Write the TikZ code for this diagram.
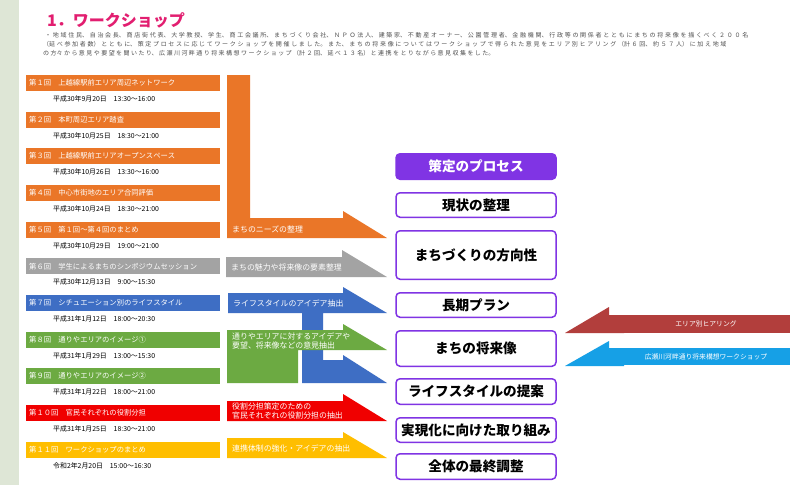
\documentclass[tikz,border=0pt]{standalone}
\usepackage{fontspec}
\setmainfont{Noto Sans CJK JP}
\XeTeXlinebreaklocale "ja"
\XeTeXlinebreakskip=0pt plus 3pt
\definecolor{wsorange}{RGB}{234,118,40}
\definecolor{wsgray}{RGB}{163,163,163}
\definecolor{wsblue}{RGB}{62,110,196}
\definecolor{wsgreen}{RGB}{108,170,66}
\definecolor{wsred}{RGB}{240,0,0}
\definecolor{wsyellow}{RGB}{255,190,0}
\definecolor{wspurple}{RGB}{128,52,228}
\definecolor{wstitle}{RGB}{226,30,112}
\definecolor{wsbrown}{RGB}{178,62,60}
\definecolor{wscyan}{RGB}{22,160,230}
\definecolor{paragray}{RGB}{80,80,80}
\definecolor{mapbg}{RGB}{222,230,214}
\begin{document}
\begin{tikzpicture}[x=1pt,y=-1pt,
  sess/.style={anchor=north west, inner xsep=3pt, inner ysep=0pt, minimum height=16pt,
    text width=188pt, text=white, font=\fontsize{7.3}{8}\selectfont},
  datetext/.style={anchor=west, inner sep=0pt, font=\fontsize{6.9}{7.5}\selectfont},
  arrlabel/.style={anchor=west, inner sep=0pt, text=white, align=left,
    font=\fontsize{7.9}{9}\selectfont},
  procbox/.style={draw=wspurple, line width=1.5pt, rounded corners=4pt, fill=white,
    minimum width=160pt, font=\fontsize{13.6}{15}\selectfont\bfseries},
  sidebox/.style={minimum width=168pt, inner sep=0pt, text=white,
    font=\fontsize{6.8}{8}\selectfont},
  paraline/.style={anchor=west, inner sep=0pt, text=paragray, font=\fontsize{6}{7}\selectfont}
]
\useasboundingbox (0,0) rectangle (798,485);
\fill[white] (0,0) rectangle (798,485);
\fill[mapbg] (0,0) rectangle (19,485);

% title and paragraph
\node[anchor=west, inner sep=0pt, text=wstitle, font=\fontsize{16}{18}\selectfont\bfseries] (title) at (47,20) {1．ワークショップ};
\node[paraline, text width=710pt] (p1) at (45,35) {\parfillskip=0pt\relax ・地域住民、自治会長、商店街代表、大学教授、学生、商工会議所、まちづくり会社、ＮＰＯ法人、建築家、不動産オーナー、公園管理者、金融機関、行政等の関係者とともにまちの将来像を描くべく２００名\par};
\node[paraline, text width=690pt] (p2) at (43,44) {\parfillskip=0pt\relax （延べ参加者数）とともに、策定プロセスに応じてワークショップを開催しました。また、まちの将来像についてはワークショップで得られた意見をエリア別ヒアリング（計６回、約５７人）に加え地域\par};
\node[paraline, text width=457pt] (p3) at (43,53) {\parfillskip=0pt\relax の方々から意見や要望を聞いたり、広瀬川河畔通り将来構想ワークショップ（計２回、延べ１３名）と連携をとりながら意見収集をした。\par};

% sessions
\foreach \n/\t/\c/\ti/\da in {
  1/75/wsorange/第１回　上越線駅前エリア周辺ネットワーク/平成30年9月20日　13:30～16:00,
  2/112/wsorange/第２回　本町周辺エリア踏査/平成30年10月25日　18:30～21:00,
  3/148/wsorange/第３回　上越線駅前エリアオープンスペース/平成30年10月26日　13:30～16:00,
  4/185/wsorange/第４回　中心市街地のエリア合同評価/平成30年10月24日　18:30～21:00,
  5/222/wsorange/第５回　第１回～第４回のまとめ/平成30年10月29日　19:00～21:00,
  6/258/wsgray/第６回　学生によるまちのシンポジウムセッション/平成30年12月13日　9:00～15:30,
  7/295/wsblue/第７回　シチュエーション別のライフスタイル/平成31年1月12日　18:00～20:30,
  8/332/wsgreen/第８回　通りやエリアのイメージ①/平成31年1月29日　13:00～15:30,
  9/368/wsgreen/第９回　通りやエリアのイメージ②/平成31年1月22日　18:00～21:00,
  10/405/wsred/第１０回　官民それぞれの役割分担/平成31年1月25日　18:30～21:00,
  11/442/wsyellow/第１１回　ワークショップのまとめ/令和2年2月20日　15:00～16:30}
{
  \node[sess, fill=\c] (s\n) at (26,\t) {\ti};
  \node[datetext] (d\n) at (53,{\t+23.5}) {\da};
}

% middle arrows
\fill[wsorange] (227,75) -- (250,75) -- (250,218) -- (343,218) -- (343,211) -- (387,238) -- (227,238) -- cycle;
\fill[wsgray] (226,257) -- (342,257) -- (342,250) -- (387,277) -- (226,277) -- cycle;
\fill[wsblue] (228,293) -- (343,293) -- (343,287) -- (387,313) -- (323,313) -- (323,360)
  -- (343,360) -- (343,355) -- (387,383) -- (302,383) -- (302,313) -- (228,313) -- cycle;
\fill[wsgreen] (227,330) -- (343,330) -- (343,324) -- (387,350) -- (298,350) -- (298,383) -- (227,383) -- cycle;
\fill[wsred] (227,401) -- (343,401) -- (343,394) -- (387,421) -- (227,421) -- cycle;
\fill[wsyellow] (227,438) -- (343,438) -- (343,432) -- (387,458) -- (227,458) -- cycle;

\node[arrlabel] (la1) at (232,229) {まちのニーズの整理};
\node[arrlabel] (la2) at (231,267) {まちの魅力や将来像の要素整理};
\node[arrlabel] (la3) at (233,303) {ライフスタイルのアイデア抽出};
\node[arrlabel] (la4) at (232,341) {通りやエリアに対するアイデアや\\要望、将来像などの意見抽出};
\node[arrlabel] (la5) at (232,411) {役割分担策定のための\\官民それぞれの役割分担の抽出};
\node[arrlabel] (la6) at (232,448) {連携体制の強化・アイデアの抽出};

% process column
\node[procbox, fill=wspurple, text=white, minimum height=25.5pt] (r0) at (476,166.5) {策定のプロセス};
\node[procbox, minimum height=24.5pt] (r1) at (476,205) {現状の整理};
\node[procbox, minimum height=48.5pt] (r2) at (476,255) {まちづくりの方向性};
\node[procbox, minimum height=24.5pt] (r3) at (476,305) {長期プラン};
\node[procbox, minimum height=35.5pt] (r4) at (476,348.5) {まちの将来像};
\node[procbox, minimum height=25.5pt] (r5) at (476,391.5) {ライフスタイルの提案};
\node[procbox, minimum height=24.5pt] (r6) at (476,430) {実現化に向けた取り組み};
\node[procbox, minimum height=25.5pt] (r7) at (476,466.5) {全体の最終調整};

% right side inputs
\fill[wsbrown] (565,333) -- (609,307) -- (609,315) -- (624,315) -- (624,333) -- cycle;
\fill[wscyan] (565,366) -- (609,341) -- (609,348) -- (624,348) -- (624,366) -- cycle;
\node[sidebox, fill=wsbrown, minimum height=18pt] (h1) at (706,324) {エリア別ヒアリング};
\node[sidebox, fill=wscyan, minimum height=17pt] (h2) at (706,356.5) {広瀬川河畔通り将来構想ワークショップ};
\end{tikzpicture}
\end{document}
